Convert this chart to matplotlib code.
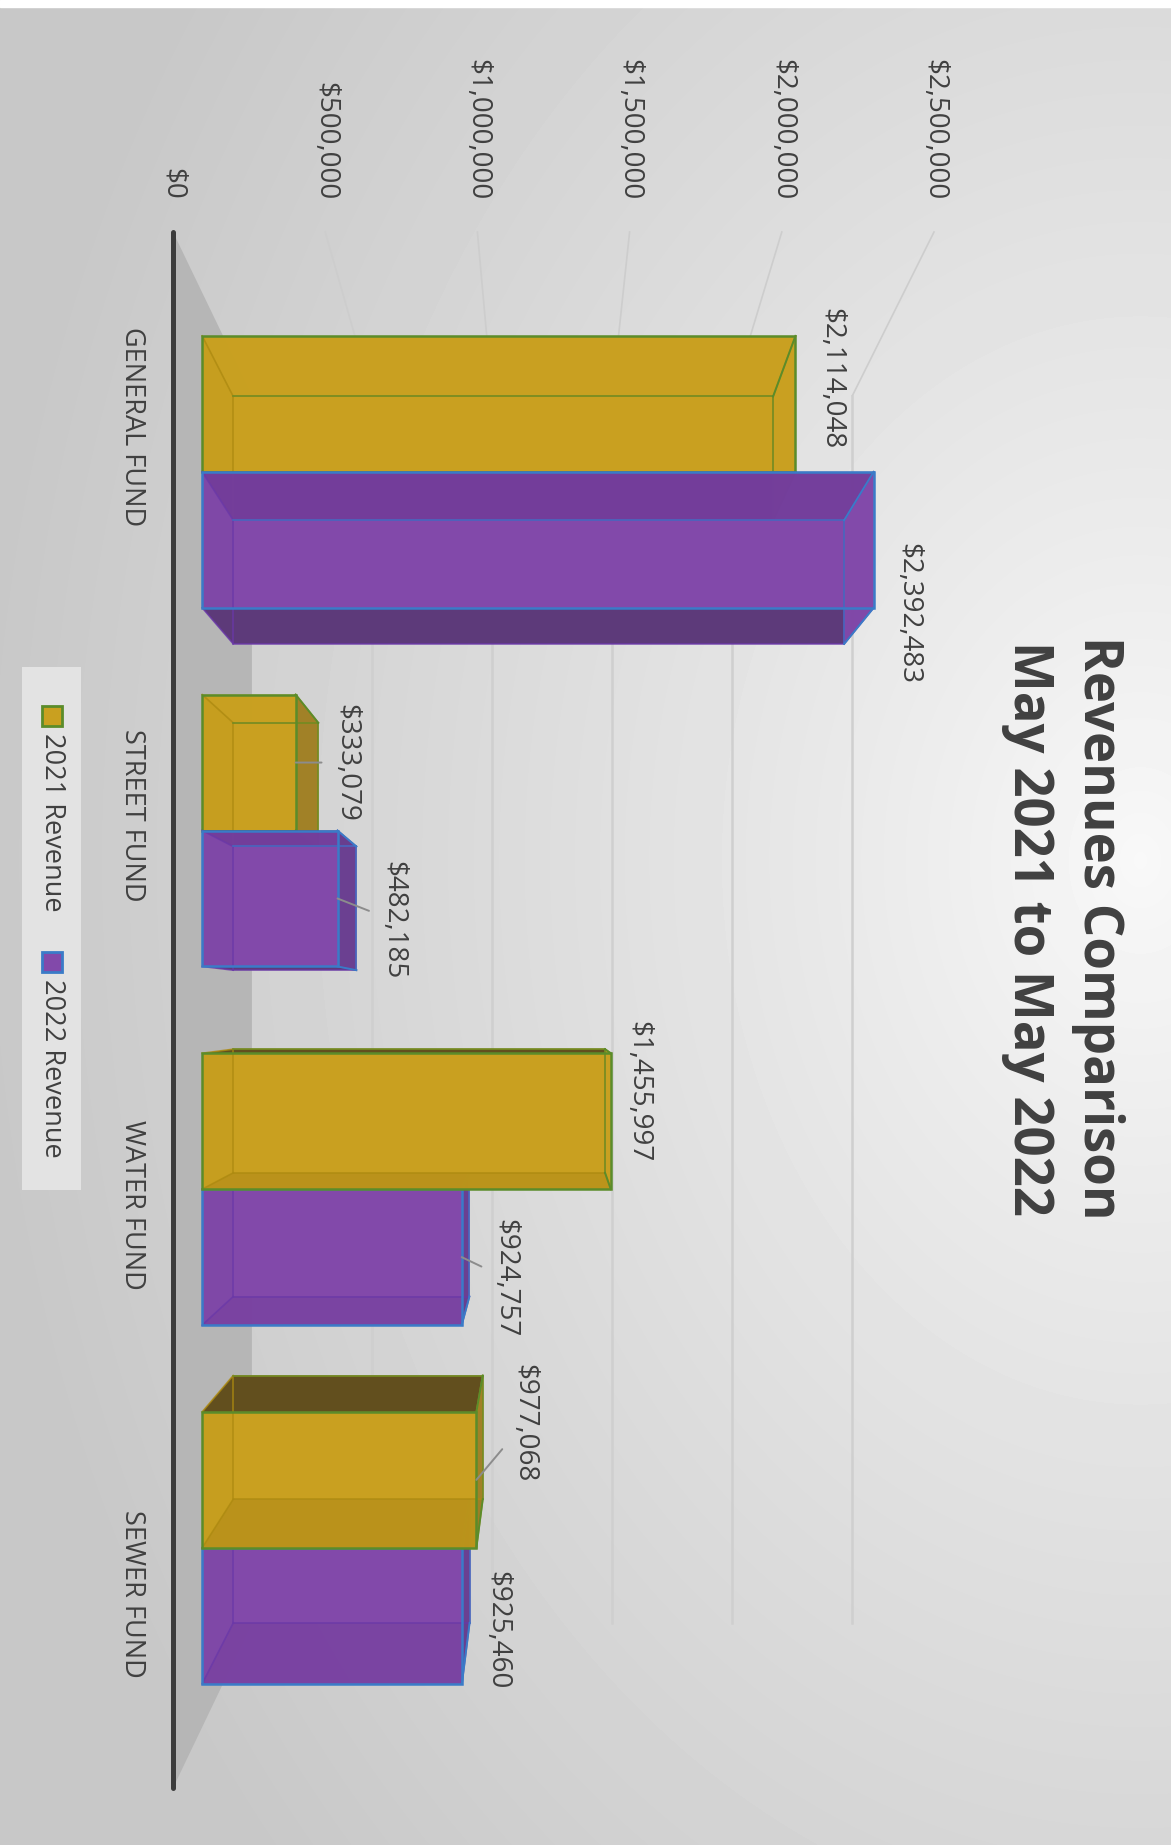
import numpy as np
import matplotlib.pyplot as plt
from matplotlib.patches import Polygon, Rectangle

plt.rcParams['font.family'] = ['Open Sans', 'DejaVu Sans']

# data
categories = ["GENERAL FUND", "STREET FUND", "WATER FUND", "SEWER FUND"]
series_names = ["2021 Revenue", "2022 Revenue"]
rev_2021 = [2114048, 333079, 1455997, 977068]
rev_2022 = [2392483, 482185, 924757, 925460]
value_ticks = [0, 500000, 1000000, 1500000, 2000000, 2500000]
title = "Revenues Comparison\nMay 2021 to May 2022"

# data label offsets in pixels (dx right, dy down) and whether a leader line is drawn
label_offsets = [[(36, -25), (51, 0), (27, -30), (48, -57)],
                 [(35, 74), (56, 22), (44, 21), (35, 14)]]
leaders = [[False, True, False, True],
           [False, True, True, False]]

W, H = 1171, 1845
fig = plt.figure(figsize=(W / 100, H / 100), dpi=100)

# background gradient
bg = fig.add_axes([0, 0, 1, 1], zorder=0)
yy, xx = np.mgrid[0:H, 0:W]
d = np.sqrt(((xx - 1140) / 1.0) ** 2 + ((yy - 860) / 1.3) ** 2)
val = 0.975 - 0.19 * np.clip(d / 1150, 0, 1) ** 0.85
bg.imshow(val, cmap='gray', vmin=0, vmax=1, extent=(0, W, H, 0), aspect='auto')
bg.add_patch(Rectangle((0, 0), W, 7, color='white'))
bg.set_xlim(0, W)
bg.set_ylim(H, 0)
bg.axis('off')

# main axes laid out so that the front plane maps to the reference pixels
PX0, PXV = 173, 304.4e-6      # pixel of value 0, pixels per unit value
PY0, PYC = 232, 389           # pixel top of category band, pixels per category
left_px, top_px = 150, 205
ax = fig.add_axes([left_px / W, 0, (W - left_px) / W, (H - top_px) / H], zorder=1)
ax.set_facecolor('none')
ax.set_xlim((left_px - PX0) / PXV, (W - PX0) / PXV)
ax.set_ylim((H - PY0) / PYC - 0.5, (top_px - PY0) / PYC - 0.5)
for sp in ax.spines.values():
    sp.set_visible(False)

VPX, VPY = (547 - PX0) / PXV, (1008 - PY0) / PYC - 0.5
S_BAR_F, S_BAR_B, S_WALL = 0.922, 0.839, 0.789
BAR_W = 0.379
c_top, c_bot = -0.5, len(categories) - 0.5


def proj(v, c, s):
    return (VPX + s * (v - VPX), VPY + s * (c - VPY))


# floor
ax.add_patch(Polygon([proj(0, c_top, 1), proj(0, c_top, S_WALL), proj(0, c_bot, S_WALL),
                      proj(0, c_bot, 1)], closed=True, facecolor='#b6b6b6', edgecolor='none', zorder=1))

# gridlines: top wall diagonals and back wall verticals
for v in value_ticks[1:]:
    p1, p2, p3 = proj(v, c_top, 1), proj(v, c_top, S_WALL), proj(v, c_bot, S_WALL)
    ax.plot([p1[0], p2[0]], [p1[1], p2[1]], color='#cdcdcd', lw=1.2, zorder=1.5)
    ax.plot([p2[0], p3[0]], [p2[1], p3[1]], color='#cfcfcf', lw=1.8, zorder=1.5)

# axis line
a1, a2 = proj(0, c_top, 1), proj(0, c_bot, 1)
ax.plot([a1[0], a2[0]], [a1[1], a2[1]], color='#3c3c3c', lw=3.6, zorder=2, solid_capstyle='round')

# bars: side faces seen from outside are dark, seen through the front are light
styles = [
    dict(face='#c9a020', top_out='#5e4c1e', top_in='#c9a020', bot_out='#4a3010', bot_in='#7a5a00',
         end_out='#a08028', end_in='#c9a020', base='#bf9818', alpha=0.82,
         edge='#5b8c2a', inner='#ad8a10'),
    dict(face='#8249aa', top_out='#5c3a78', top_in='#3a1060', bot_out='#5c3a78', bot_in='#5a2a80',
         end_out='#6a4090', end_in='#8249aa', base='#7440a0', alpha=0.8,
         edge='#3a7bc8', inner='#6a38a8'),
]
for i in range(len(categories)):
    bars = []
    for j, values in enumerate([rev_2021, rev_2022]):
        c0 = i - BAR_W if j == 0 else i
        bars.append((abs(c0 + BAR_W / 2 - VPY), j, c0, values[i]))
    # draw the bar farther from the vanishing point first
    for order, (_, j, c0, v) in enumerate(sorted(bars, reverse=True)):
        st = styles[j]
        c1 = c0 + BAR_W
        z = 3 + i * 0.1 + order * 0.05
        fb = [proj(0, c0, S_BAR_B), proj(v, c0, S_BAR_B), proj(v, c1, S_BAR_B), proj(0, c1, S_BAR_B)]
        ff = [proj(0, c0, S_BAR_F), proj(v, c0, S_BAR_F), proj(v, c1, S_BAR_F), proj(0, c1, S_BAR_F)]
        ax.add_patch(Polygon(fb, closed=True, facecolor=st['face'], edgecolor='none', zorder=z))
        top_col = st['top_out'] if c0 > VPY else st['top_in']
        bot_col = st['bot_out'] if c1 < VPY else st['bot_in']
        end_col = st['end_out'] if v < VPX else st['end_in']
        faces = [([ff[0], ff[3], fb[3], fb[0]], st['base']),
                 ([ff[0], ff[1], fb[1], fb[0]], top_col),
                 ([ff[3], ff[2], fb[2], fb[3]], bot_col),
                 ([ff[1], ff[2], fb[2], fb[1]], end_col)]
        for pts, col in faces:
            ax.add_patch(Polygon(pts, closed=True, facecolor=col, edgecolor='none', alpha=0.96, zorder=z))
        ax.add_patch(Polygon(ff, closed=True, facecolor=st['face'], edgecolor='none', alpha=st['alpha'],
                             zorder=z + 0.01))
        # inner edges
        ax.add_patch(Polygon(fb, closed=True, facecolor='none', edgecolor=st['inner'], lw=1.2,
                             alpha=0.8, zorder=z + 0.02))
        for a, b in zip(ff, fb):
            ax.plot([a[0], b[0]], [a[1], b[1]], color=st['inner'], lw=1.2, alpha=0.8, zorder=z + 0.02)
        # outer edges
        ax.add_patch(Polygon(ff, closed=True, facecolor='none', edgecolor=st['edge'], lw=1.8,
                             zorder=z + 0.03))
        for k in (1, 2):
            a, b = ff[k], fb[k]
            ax.plot([a[0], b[0]], [a[1], b[1]], color=st['edge'], lw=1.4, zorder=z + 0.03)
        ax.plot([fb[0][0], fb[1][0]], [fb[0][1], fb[1][1]], color=st['edge'], lw=1.2, alpha=0.7, zorder=z + 0.03)
        ax.plot([fb[1][0], fb[2][0]], [fb[1][1], fb[2][1]], color=st['edge'], lw=1.2, alpha=0.7, zorder=z + 0.03)

        # data label
        dx, dy = label_offsets[j][i]
        xy = proj(v, c0 + BAR_W / 2, S_BAR_F)
        kw = {}
        if leaders[j][i]:
            kw['arrowprops'] = dict(arrowstyle='-', color='#8c8c8c', lw=1.4, shrinkA=6, shrinkB=0)
        ax.annotate("${:,.0f}".format(v), xy=xy, xytext=(dx, -dy), textcoords='offset pixels',
                    rotation=270, ha='center', va='center', fontsize=20, color='#404040',
                    zorder=10, **kw)

# ticks
ax.xaxis.tick_top()
ax.set_xticks(value_ticks)
ax.set_xticklabels(["${:,.0f}".format(t) for t in value_ticks])
ax.tick_params(axis='x', length=0, pad=3.5, labelsize=20, labelcolor='#404040', labelrotation=270)
ax.set_yticks(range(len(categories)))
ax.set_yticklabels(categories)
ax.tick_params(axis='y', length=0, pad=3, labelsize=19.5, labelcolor='#404040', labelrotation=270)
for lab in ax.get_yticklabels():
    lab.set_va('center')

# title
fig.text(1063 / W, 1 - 928 / H, title, rotation=270, ha='center', va='center', multialignment='center',
         fontsize=38, fontweight='bold', color='#404040', linespacing=1.4)

# legend (drawn rotated like the rest of the chart)
fig.patches.append(Rectangle((22 / W, 1 - 1190 / H), 59 / W, 523 / H, transform=fig.transFigure,
                             facecolor='#e3e3e3', edgecolor='none', zorder=2))
leg_y = [706, 952]
for j, name in enumerate(series_names):
    st = styles[j]
    fig.patches.append(Rectangle((42 / W, 1 - (leg_y[j] + 20) / H), 20 / W, 20 / H, transform=fig.transFigure,
                                 facecolor=st['face'], edgecolor=st['edge'], lw=2, zorder=3))
    fig.text(52 / W, 1 - (leg_y[j] + 27) / H, name, rotation=270, ha='center', va='top',
             fontsize=19.5, color='#404040', zorder=4)

fig.savefig("out.png", dpi=100)
